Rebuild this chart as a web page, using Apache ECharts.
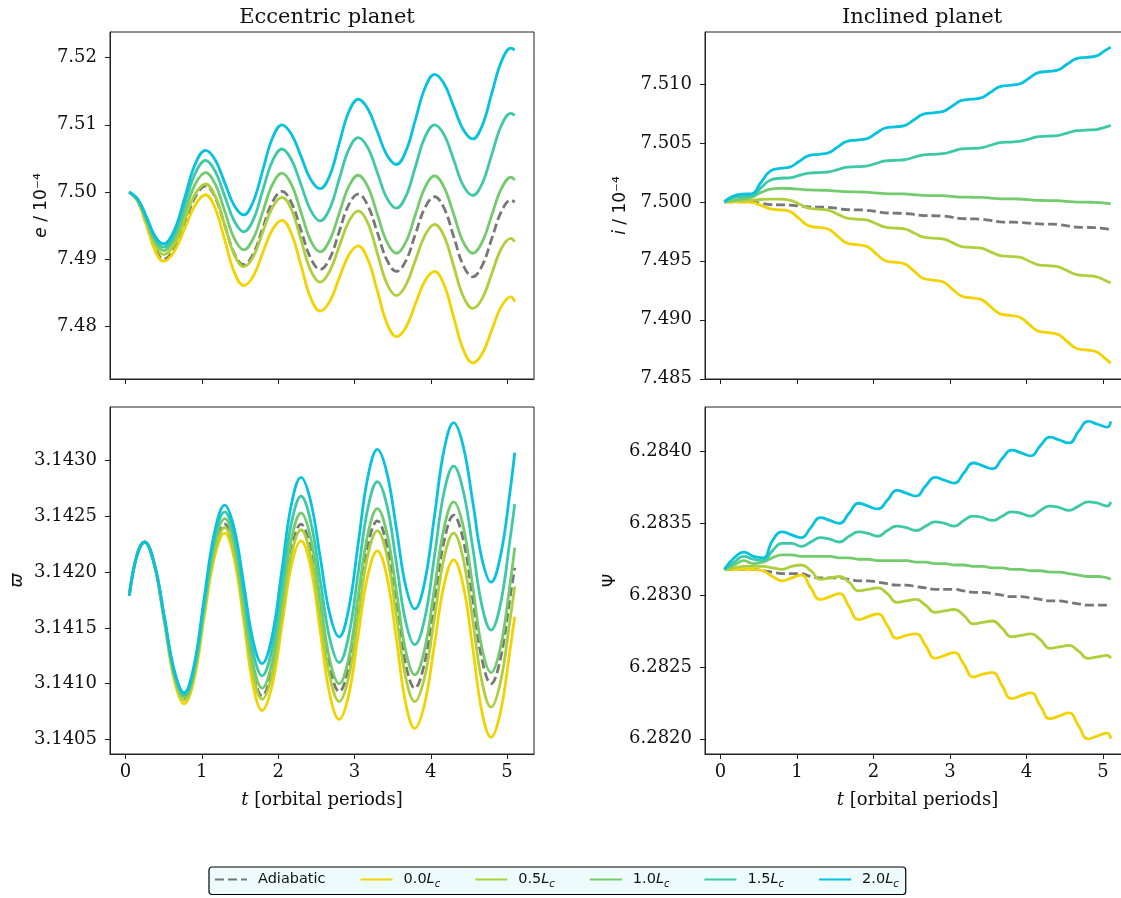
<!DOCTYPE html>
<html>
<head>
<meta charset="utf-8">
<script src="https://cdn.jsdelivr.net/npm/echarts@6/dist/echarts.min.js"></script>
<style>
html,body{margin:0;padding:0;background:#fff;}
#chart{width:1121px;height:898px;}
</style>
</head>
<body>
<div id="chart"></div>
<script>
// ---------- DATA ----------
const seriesNames = ['Adiabatic', '0.0', '0.5', '1.0', '1.5', '2.0'];

// Eccentric planet: e / 1e-4
const tE = [0.05, 0.165, 0.28, 0.39, 0.5, 0.64, 0.78, 0.915, 1.05, 1.175, 1.3, 1.425, 1.55, 1.675, 1.8, 1.925, 2.05, 2.175, 2.3, 2.425, 2.55, 2.675, 2.8, 2.925, 3.05, 3.175, 3.3, 3.425, 3.55, 3.675, 3.8, 3.925, 4.05, 4.175, 4.3, 4.425, 4.55, 4.675, 4.8, 4.925, 5.05, 5.1];
const eAdiabatic = [7.5000, 7.4985, 7.4950, 7.4915, 7.4900, 7.4916, 7.4955, 7.4993, 7.5009, 7.4992, 7.4951, 7.4909, 7.4892, 7.4908, 7.4947, 7.4985, 7.5001, 7.4984, 7.4943, 7.4902, 7.4885, 7.4901, 7.4941, 7.4981, 7.4997, 7.4980, 7.4940, 7.4899, 7.4882, 7.4898, 7.4938, 7.4977, 7.4993, 7.4976, 7.4934, 7.4891, 7.4874, 7.4891, 7.4931, 7.4971, 7.4988, 7.4985];
const e00 = [7.5000, 7.4985, 7.4949, 7.4912, 7.4897, 7.4912, 7.4947, 7.4981, 7.4996, 7.4976, 7.4929, 7.4881, 7.4861, 7.4875, 7.4910, 7.4944, 7.4958, 7.4938, 7.4891, 7.4843, 7.4823, 7.4837, 7.4872, 7.4906, 7.4920, 7.4900, 7.4853, 7.4805, 7.4785, 7.4799, 7.4834, 7.4868, 7.4882, 7.4862, 7.4814, 7.4766, 7.4746, 7.4760, 7.4795, 7.4830, 7.4844, 7.4837];
const e05 = [7.5000, 7.4986, 7.4954, 7.4921, 7.4907, 7.4922, 7.4960, 7.4997, 7.5012, 7.4994, 7.4951, 7.4907, 7.4889, 7.4904, 7.4941, 7.4977, 7.4992, 7.4974, 7.4929, 7.4884, 7.4866, 7.4882, 7.4919, 7.4956, 7.4972, 7.4954, 7.4909, 7.4864, 7.4846, 7.4862, 7.4899, 7.4936, 7.4952, 7.4934, 7.4890, 7.4845, 7.4827, 7.4842, 7.4879, 7.4916, 7.4931, 7.4926];
const e10 = [7.5000, 7.4987, 7.4957, 7.4926, 7.4913, 7.4930, 7.4971, 7.5012, 7.5029, 7.5012, 7.4972, 7.4931, 7.4914, 7.4931, 7.4971, 7.5011, 7.5028, 7.5011, 7.4970, 7.4928, 7.4911, 7.4928, 7.4968, 7.5008, 7.5025, 7.5008, 7.4967, 7.4926, 7.4909, 7.4926, 7.4967, 7.5007, 7.5024, 7.5007, 7.4967, 7.4926, 7.4909, 7.4926, 7.4966, 7.5005, 7.5022, 7.5018];
const e15 = [7.5000, 7.4988, 7.4959, 7.4930, 7.4918, 7.4937, 7.4983, 7.5028, 7.5047, 7.5031, 7.4994, 7.4957, 7.4941, 7.4959, 7.5003, 7.5046, 7.5064, 7.5048, 7.5011, 7.4973, 7.4957, 7.4975, 7.5019, 7.5063, 7.5081, 7.5066, 7.5029, 7.4991, 7.4976, 7.4994, 7.5038, 7.5082, 7.5100, 7.5085, 7.5048, 7.5010, 7.4995, 7.5013, 7.5056, 7.5099, 7.5117, 7.5114];
const e20 = [7.5000, 7.4989, 7.4962, 7.4934, 7.4923, 7.4943, 7.4993, 7.5042, 7.5062, 7.5048, 7.5014, 7.4980, 7.4966, 7.4986, 7.5033, 7.5080, 7.5100, 7.5086, 7.5053, 7.5019, 7.5005, 7.5024, 7.5072, 7.5119, 7.5138, 7.5124, 7.5090, 7.5055, 7.5041, 7.5061, 7.5108, 7.5155, 7.5175, 7.5161, 7.5127, 7.5093, 7.5079, 7.5099, 7.5147, 7.5194, 7.5214, 7.5211];

// Eccentric planet: varpi
const tW = [0.05, 0.15, 0.25, 0.38, 0.51, 0.64, 0.77, 0.9, 1.03, 1.165, 1.3, 1.425, 1.55, 1.67, 1.79, 1.92, 2.05, 2.175, 2.3, 2.425, 2.55, 2.675, 2.8, 2.925, 3.05, 3.175, 3.3, 3.425, 3.55, 3.67, 3.79, 3.92, 4.05, 4.175, 4.3, 4.425, 4.55, 4.67, 4.79, 4.915, 5.04, 5.1];
const wAdiabatic = [3.14179, 3.14215, 3.14227, 3.14206, 3.14157, 3.14107, 3.14086, 3.14109, 3.14165, 3.14220, 3.14243, 3.14220, 3.14166, 3.14112, 3.14089, 3.14112, 3.14166, 3.14220, 3.14243, 3.14221, 3.14168, 3.14115, 3.14093, 3.14115, 3.14170, 3.14224, 3.14246, 3.14224, 3.14171, 3.14118, 3.14096, 3.14119, 3.14174, 3.14228, 3.14251, 3.14229, 3.14176, 3.14122, 3.14100, 3.14123, 3.14178, 3.14204];
const w00 = [3.14179, 3.14215, 3.14227, 3.14206, 3.14155, 3.14103, 3.14082, 3.14104, 3.14159, 3.14213, 3.14235, 3.14212, 3.14156, 3.14099, 3.14076, 3.14098, 3.14152, 3.14206, 3.14228, 3.14205, 3.14148, 3.14091, 3.14068, 3.14090, 3.14144, 3.14197, 3.14219, 3.14196, 3.14140, 3.14083, 3.14060, 3.14082, 3.14136, 3.14189, 3.14211, 3.14188, 3.14132, 3.14075, 3.14052, 3.14075, 3.14131, 3.14160];
const w05 = [3.14179, 3.14215, 3.14227, 3.14206, 3.14156, 3.14106, 3.14085, 3.14108, 3.14163, 3.14217, 3.14240, 3.14217, 3.14163, 3.14109, 3.14086, 3.14108, 3.14162, 3.14216, 3.14238, 3.14215, 3.14161, 3.14107, 3.14084, 3.14106, 3.14161, 3.14215, 3.14237, 3.14215, 3.14161, 3.14106, 3.14084, 3.14106, 3.14160, 3.14213, 3.14235, 3.14212, 3.14157, 3.14102, 3.14079, 3.14102, 3.14158, 3.14187];
const w10 = [3.14179, 3.14215, 3.14227, 3.14207, 3.14158, 3.14108, 3.14088, 3.14111, 3.14168, 3.14225, 3.14248, 3.14226, 3.14172, 3.14118, 3.14096, 3.14119, 3.14175, 3.14230, 3.14253, 3.14231, 3.14177, 3.14122, 3.14100, 3.14123, 3.14179, 3.14234, 3.14257, 3.14235, 3.14183, 3.14130, 3.14108, 3.14131, 3.14186, 3.14240, 3.14263, 3.14241, 3.14187, 3.14132, 3.14110, 3.14133, 3.14190, 3.14222];
const w15 = [3.14179, 3.14215, 3.14227, 3.14207, 3.14159, 3.14110, 3.14090, 3.14114, 3.14172, 3.14230, 3.14254, 3.14232, 3.14181, 3.14129, 3.14107, 3.14131, 3.14188, 3.14244, 3.14268, 3.14246, 3.14194, 3.14141, 3.14119, 3.14143, 3.14200, 3.14257, 3.14281, 3.14260, 3.14208, 3.14156, 3.14135, 3.14158, 3.14215, 3.14272, 3.14295, 3.14273, 3.14222, 3.14170, 3.14148, 3.14172, 3.14230, 3.14261];
const w20 = [3.14179, 3.14215, 3.14227, 3.14207, 3.14160, 3.14112, 3.14092, 3.14117, 3.14176, 3.14235, 3.14260, 3.14239, 3.14189, 3.14139, 3.14118, 3.14142, 3.14202, 3.14261, 3.14285, 3.14264, 3.14214, 3.14163, 3.14142, 3.14167, 3.14226, 3.14285, 3.14310, 3.14289, 3.14239, 3.14188, 3.14167, 3.14191, 3.14251, 3.14310, 3.14334, 3.14313, 3.14263, 3.14212, 3.14191, 3.14215, 3.14273, 3.14307];

// Inclined planet: i / 1e-4
const tI = [0.05, 0.155, 0.28, 0.405, 0.53, 0.655, 0.78, 0.905, 1.03, 1.155, 1.28, 1.405, 1.53, 1.655, 1.78, 1.905, 2.03, 2.155, 2.28, 2.405, 2.53, 2.655, 2.78, 2.905, 3.03, 3.155, 3.28, 3.405, 3.53, 3.655, 3.78, 3.905, 4.03, 4.155, 4.28, 4.405, 4.53, 4.655, 4.78, 4.905, 5.03, 5.1];
const iAdiabatic = [7.50000, 7.50000, 7.50000, 7.49998, 7.49988, 7.49977, 7.49975, 7.49973, 7.49965, 7.49957, 7.49955, 7.49953, 7.49944, 7.49934, 7.49932, 7.49929, 7.49918, 7.49907, 7.49904, 7.49902, 7.49893, 7.49884, 7.49882, 7.49880, 7.49869, 7.49858, 7.49856, 7.49853, 7.49842, 7.49831, 7.49828, 7.49826, 7.49820, 7.49813, 7.49811, 7.49808, 7.49797, 7.49786, 7.49783, 7.49781, 7.49772, 7.49764];
const i00 = [7.50000, 7.50000, 7.50000, 7.49995, 7.49970, 7.49940, 7.49932, 7.49919, 7.49858, 7.49796, 7.49783, 7.49770, 7.49710, 7.49650, 7.49637, 7.49624, 7.49563, 7.49501, 7.49488, 7.49474, 7.49412, 7.49350, 7.49336, 7.49322, 7.49261, 7.49200, 7.49186, 7.49173, 7.49112, 7.49050, 7.49037, 7.49024, 7.48964, 7.48904, 7.48891, 7.48878, 7.48818, 7.48757, 7.48744, 7.48731, 7.48670, 7.48632];
const i05 = [7.50000, 7.50008, 7.50011, 7.50015, 7.50020, 7.50023, 7.50023, 7.50015, 7.49981, 7.49946, 7.49938, 7.49930, 7.49896, 7.49862, 7.49854, 7.49847, 7.49816, 7.49785, 7.49778, 7.49770, 7.49736, 7.49701, 7.49693, 7.49686, 7.49654, 7.49621, 7.49614, 7.49607, 7.49576, 7.49545, 7.49538, 7.49531, 7.49499, 7.49466, 7.49459, 7.49451, 7.49417, 7.49383, 7.49375, 7.49367, 7.49333, 7.49313];
const i10 = [7.50000, 7.50012, 7.50023, 7.50040, 7.50080, 7.50108, 7.50115, 7.50113, 7.50107, 7.50101, 7.50099, 7.50097, 7.50091, 7.50086, 7.50084, 7.50082, 7.50076, 7.50070, 7.50068, 7.50067, 7.50060, 7.50055, 7.50053, 7.50052, 7.50046, 7.50040, 7.50039, 7.50038, 7.50032, 7.50026, 7.50025, 7.50024, 7.50018, 7.50012, 7.50011, 7.50010, 7.50004, 7.49998, 7.49997, 7.49996, 7.49990, 7.49983];
const i15 = [7.50000, 7.50035, 7.50045, 7.50050, 7.50120, 7.50185, 7.50200, 7.50204, 7.50224, 7.50244, 7.50248, 7.50253, 7.50273, 7.50294, 7.50298, 7.50303, 7.50325, 7.50347, 7.50352, 7.50357, 7.50378, 7.50398, 7.50403, 7.50408, 7.50428, 7.50449, 7.50453, 7.50458, 7.50480, 7.50502, 7.50507, 7.50512, 7.50532, 7.50553, 7.50557, 7.50562, 7.50583, 7.50603, 7.50608, 7.50613, 7.50633, 7.50650];
const i20 = [7.50000, 7.50045, 7.50065, 7.50068, 7.50166, 7.50262, 7.50284, 7.50295, 7.50344, 7.50392, 7.50403, 7.50414, 7.50464, 7.50513, 7.50524, 7.50534, 7.50580, 7.50626, 7.50636, 7.50647, 7.50696, 7.50744, 7.50755, 7.50765, 7.50813, 7.50860, 7.50870, 7.50881, 7.50929, 7.50977, 7.50988, 7.50999, 7.51047, 7.51095, 7.51106, 7.51117, 7.51166, 7.51214, 7.51225, 7.51236, 7.51284, 7.51312];

// Inclined planet: Psi
const tP = [0.05, 0.18, 0.305, 0.43, 0.555, 0.68, 0.805, 0.93, 1.055, 1.18, 1.305, 1.43, 1.555, 1.68, 1.805, 1.93, 2.055, 2.18, 2.305, 2.43, 2.555, 2.68, 2.805, 2.93, 3.055, 3.18, 3.305, 3.43, 3.555, 3.68, 3.805, 3.93, 4.055, 4.18, 4.305, 4.43, 4.555, 4.68, 4.805, 4.93, 5.055, 5.1];
const pAdiabatic = [6.28318, 6.28318, 6.28318, 6.28318, 6.28317, 6.28316, 6.28315, 6.28315, 6.28315, 6.28313, 6.28312, 6.28312, 6.28312, 6.28311, 6.28310, 6.28310, 6.28309, 6.28308, 6.28307, 6.28307, 6.28306, 6.28305, 6.28304, 6.28304, 6.28304, 6.28303, 6.28302, 6.28302, 6.28301, 6.28300, 6.28299, 6.28299, 6.28298, 6.28297, 6.28296, 6.28296, 6.28295, 6.28294, 6.28293, 6.28293, 6.28293, 6.28293];
const p00 = [6.28318, 6.28318, 6.28318, 6.28318, 6.28317, 6.28313, 6.28310, 6.28312, 6.28314, 6.28305, 6.28297, 6.28299, 6.28301, 6.28292, 6.28283, 6.28285, 6.28287, 6.28279, 6.28270, 6.28272, 6.28273, 6.28265, 6.28256, 6.28258, 6.28260, 6.28252, 6.28243, 6.28245, 6.28246, 6.28237, 6.28228, 6.28230, 6.28232, 6.28223, 6.28214, 6.28216, 6.28218, 6.28209, 6.28200, 6.28202, 6.28204, 6.28200];
const p05 = [6.28318, 6.28319, 6.28320, 6.28320, 6.28320, 6.28319, 6.28318, 6.28320, 6.28321, 6.28317, 6.28311, 6.28312, 6.28313, 6.28309, 6.28303, 6.28304, 6.28305, 6.28301, 6.28295, 6.28296, 6.28297, 6.28293, 6.28288, 6.28289, 6.28290, 6.28286, 6.28280, 6.28281, 6.28282, 6.28277, 6.28271, 6.28272, 6.28273, 6.28269, 6.28263, 6.28264, 6.28265, 6.28261, 6.28256, 6.28257, 6.28258, 6.28256];
const p10 = [6.28318, 6.28321, 6.28324, 6.28322, 6.28323, 6.28326, 6.28328, 6.28328, 6.28327, 6.28327, 6.28327, 6.28327, 6.28326, 6.28326, 6.28325, 6.28325, 6.28324, 6.28324, 6.28324, 6.28324, 6.28323, 6.28323, 6.28322, 6.28322, 6.28321, 6.28321, 6.28320, 6.28320, 6.28319, 6.28319, 6.28318, 6.28318, 6.28317, 6.28317, 6.28316, 6.28316, 6.28315, 6.28314, 6.28313, 6.28313, 6.28312, 6.28311];
const p15 = [6.28318, 6.28323, 6.28327, 6.28325, 6.28324, 6.28331, 6.28336, 6.28336, 6.28334, 6.28337, 6.28340, 6.28339, 6.28337, 6.28341, 6.28344, 6.28343, 6.28341, 6.28345, 6.28348, 6.28347, 6.28345, 6.28348, 6.28351, 6.28350, 6.28348, 6.28352, 6.28355, 6.28354, 6.28352, 6.28355, 6.28358, 6.28357, 6.28355, 6.28359, 6.28362, 6.28361, 6.28359, 6.28362, 6.28365, 6.28364, 6.28362, 6.28365];
const p20 = [6.28318, 6.28326, 6.28330, 6.28327, 6.28326, 6.28338, 6.28344, 6.28342, 6.28340, 6.28347, 6.28354, 6.28352, 6.28350, 6.28357, 6.28364, 6.28362, 6.28360, 6.28366, 6.28373, 6.28371, 6.28369, 6.28376, 6.28382, 6.28380, 6.28378, 6.28385, 6.28392, 6.28390, 6.28388, 6.28395, 6.28401, 6.28399, 6.28397, 6.28404, 6.28410, 6.28408, 6.28406, 6.28414, 6.28421, 6.28419, 6.28417, 6.28421];

// Tick values
const xTicks = [0, 1, 2, 3, 4, 5];
const eTicks = [7.48, 7.49, 7.50, 7.51, 7.52];
const iTicks = [7.485, 7.490, 7.495, 7.500, 7.505, 7.510];
const wTicks = [3.1405, 3.1410, 3.1415, 3.1420, 3.1425, 3.1430];
const pTicks = [6.2820, 6.2825, 6.2830, 6.2835, 6.2840];

// ---------- STYLE ----------
const colors = {
  'Adiabatic': '#777777',
  '0.0': '#F2D300',
  '0.5': '#ADD03A',
  '1.0': '#74CB6E',
  '1.5': '#3DC8A8',
  '2.0': '#06C2DF'
};
const SERIF = 'DejaVu Serif';
const SANS = 'DejaVu Sans';
const INK = '#222222';

const chart = echarts.init(document.getElementById('chart'), null, {renderer: 'canvas'});

const gridPos = [
  {left: 110, top: 32, width: 424, height: 347},
  {left: 705, top: 32, width: 425, height: 347},
  {left: 110, top: 407, width: 424, height: 347},
  {left: 705, top: 407, width: 425, height: 347}
];

function xAxisDef(gi, showLabels) {
  return {
    type: 'value', gridIndex: gi, min: -0.2025, max: 5.3525,
    axisLine: {show: true, onZero: false, lineStyle: {color: INK, width: 1}},
    axisTick: {show: true, inside: false, length: 5, customValues: xTicks, lineStyle: {color: INK, width: 1}},
    axisLabel: {show: showLabels, customValues: xTicks, margin: 9, fontFamily: SERIF, fontSize: 18, color: '#111',
      formatter: v => String(Math.round(v))},
    splitLine: {show: false},
    name: showLabels ? '{it|t} [orbital periods]' : '',
    nameLocation: 'middle', nameGap: 37, nameMoveOverlap: false,
    nameTextStyle: {fontFamily: SERIF, fontSize: 18, color: '#111',
      rich: {it: {fontFamily: SERIF, fontStyle: 'italic', fontSize: 18, color: '#111'}}}
  };
}
function yAxisDef(gi, mn, mx, ticks, dec, name, gap) {
  return {
    type: 'value', gridIndex: gi, min: mn, max: mx,
    axisLine: {show: true, onZero: false, lineStyle: {color: INK, width: 1}},
    axisTick: {show: true, inside: false, length: 5, customValues: ticks, lineStyle: {color: INK, width: 1}},
    axisLabel: {show: true, customValues: ticks, margin: 13, fontFamily: SERIF, fontSize: 18, color: '#111',
      formatter: v => v.toFixed(dec)},
    splitLine: {show: false},
    name: name, nameLocation: 'middle', nameGap: gap, nameRotate: 90, nameMoveOverlap: false,
    nameTextStyle: {fontFamily: SANS, fontSize: 17, color: '#111',
      rich: {it: {fontFamily: SANS, fontStyle: 'italic', fontSize: 17, color: '#111'}}}
  };
}

const panels = [
  {t: tE, data: [eAdiabatic, e00, e05, e10, e15, e20]},
  {t: tI, data: [iAdiabatic, i00, i05, i10, i15, i20]},
  {t: tW, data: [wAdiabatic, w00, w05, w10, w15, w20]},
  {t: tP, data: [pAdiabatic, p00, p05, p10, p15, p20]}
];

const series = [];
panels.forEach((p, gi) => {
  seriesNames.forEach((nm, k) => {
    const vals = p.data[k];
    series.push({
      name: nm, type: 'line', xAxisIndex: gi, yAxisIndex: gi,
      data: p.t.map((t, j) => [t, vals[j]]),
      smooth: gi % 2 === 0 ? 0.4 : 0.5, symbol: 'none', showSymbol: false, clip: true,
      lineStyle: {color: colors[nm], width: 2.8, type: nm === 'Adiabatic' ? [9, 4] : 'solid'},
      itemStyle: {color: colors[nm]},
      z: 2 + k, animation: false
    });
  });
});

const option = {
  backgroundColor: '#ffffff',
  animation: false,
  title: [
    {text: 'Eccentric planet', left: 322, top: 2, textAlign: 'center',
      textStyle: {fontFamily: SERIF, fontWeight: 'normal', fontSize: 21, color: '#111'}},
    {text: 'Inclined planet', left: 917, top: 2, textAlign: 'center',
      textStyle: {fontFamily: SERIF, fontWeight: 'normal', fontSize: 21, color: '#111'}}
  ],
  grid: gridPos.map(g => Object.assign({show: true, borderColor: INK, borderWidth: 1, backgroundColor: 'transparent',
    containLabel: false, outerBoundsMode: 'none'}, g)),
  xAxis: [xAxisDef(0, false), xAxisDef(1, false), xAxisDef(2, true), xAxisDef(3, true)],
  yAxis: [
    yAxisDef(0, 7.4722, 7.5238, eTicks, 2, '{it|e} / 10⁻⁴', 60),
    yAxisDef(1, 7.48498, 7.51440, iTicks, 3, '{it|i} / 10⁻⁴', 76),
    yAxisDef(2, 3.14037, 3.14348, wTicks, 4, '{it|ϖ}', 84),
    yAxisDef(3, 6.281894, 6.284310, pTicks, 4, 'Ψ', 86)
  ],
  legend: {
    data: seriesNames,
    left: 209, top: 867,
    orient: 'horizontal',
    itemWidth: 32, itemHeight: 14, itemGap: 34,
    padding: [5, 7, 5, 5],
    backgroundColor: '#EEFBFD', borderColor: '#000', borderWidth: 1.2, borderRadius: 3,
    selectedMode: false,
    itemStyle: {opacity: 0, borderWidth: 0},
    textStyle: {fontFamily: SANS, fontSize: 14.5, color: '#111', padding: [0, 0, 0, 6],
      rich: {
        n: {fontFamily: SANS, fontSize: 14.5, color: '#111', lineHeight: 20, verticalAlign: 'middle'},
        L: {fontFamily: SANS, fontStyle: 'italic', fontSize: 14.5, color: '#111', lineHeight: 20, verticalAlign: 'middle'},
        c: {fontFamily: SANS, fontStyle: 'italic', fontSize: 10, color: '#111', lineHeight: 12, verticalAlign: 'bottom'}
      }},
    formatter: nm => nm === 'Adiabatic' ? '{n|Adiabatic}' : '{n|' + nm + '}{L|L}{c|c}'
  },
  series: series
};
chart.setOption(option);
</script>
</body>
</html>
